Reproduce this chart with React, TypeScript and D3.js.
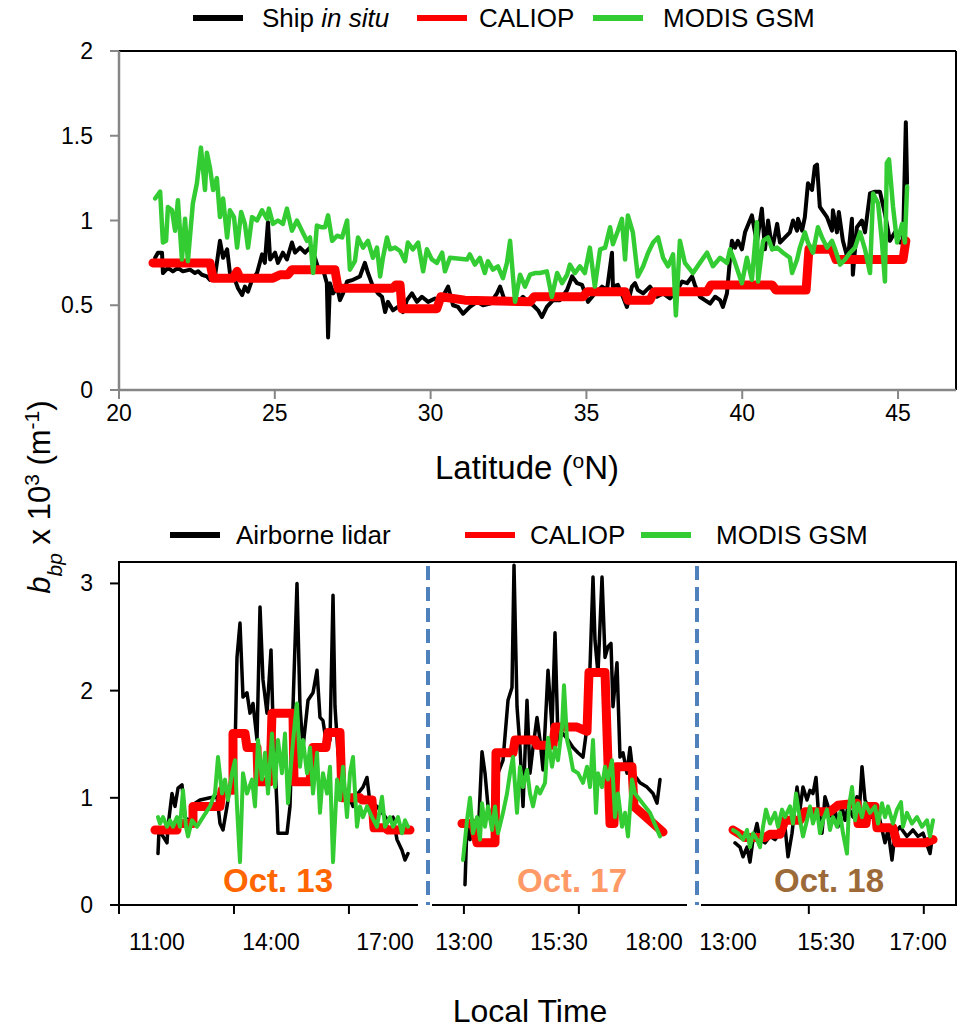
import React from 'react';
import * as d3 from 'd3';

type Pt = [number, number];

// ---- top panel: latitude (°N) vs bbp x 10^3 (m^-1)
const shipInSitu: Pt[] = [[21.16,0.78],[21.25,0.81],[21.38,0.81],[21.41,0.69],[21.57,0.72],[21.73,0.70],[21.89,0.72],[22.05,0.70],[22.28,0.71],[22.44,0.69],[22.54,0.70],[22.66,0.68],[22.82,0.67],[22.92,0.65],[23.08,0.67],[23.24,0.88],[23.34,0.78],[23.47,0.83],[23.56,0.69],[23.72,0.65],[23.82,0.60],[23.95,0.56],[24.04,0.61],[24.14,0.58],[24.27,0.65],[24.43,0.69],[24.59,0.80],[24.68,0.75],[24.78,0.99],[24.85,0.77],[25.01,0.81],[25.10,0.75],[25.26,0.81],[25.39,0.77],[25.55,0.87],[25.65,0.81],[25.81,0.84],[25.97,0.81],[26.13,0.84],[26.29,0.78],[26.39,0.72],[26.55,0.71],[26.67,0.63],[26.71,0.31],[26.77,0.63],[26.87,0.57],[27.00,0.61],[27.09,0.53],[27.19,0.57],[27.32,0.64],[27.51,0.65],[27.73,0.67],[27.89,0.75],[27.99,0.69],[28.15,0.61],[28.31,0.57],[28.44,0.55],[28.54,0.46],[28.63,0.52],[28.79,0.47],[28.95,0.49],[29.11,0.46],[29.24,0.53],[29.40,0.57],[29.56,0.52],[29.72,0.55],[29.92,0.52],[30.14,0.54],[30.30,0.52],[30.56,0.61],[30.72,0.50],[30.88,0.49],[31.04,0.45],[31.26,0.49],[31.49,0.52],[31.68,0.50],[31.91,0.51],[32.13,0.57],[32.23,0.61],[32.39,0.52],[32.55,0.52],[32.77,0.51],[32.96,0.55],[33.13,0.52],[33.29,0.50],[33.45,0.47],[33.57,0.43],[33.73,0.49],[33.93,0.53],[34.15,0.53],[34.38,0.59],[34.54,0.67],[34.70,0.63],[34.86,0.62],[35.05,0.52],[35.27,0.57],[35.50,0.61],[35.66,0.59],[35.82,0.81],[35.85,0.61],[36.01,0.62],[36.17,0.55],[36.30,0.49],[36.46,0.61],[36.56,0.63],[36.65,0.59],[36.82,0.57],[37.04,0.61],[37.26,0.55],[37.46,0.57],[37.68,0.54],[37.91,0.59],[38.07,0.64],[38.23,0.63],[38.39,0.67],[38.48,0.62],[38.64,0.55],[38.80,0.53],[38.97,0.51],[39.13,0.55],[39.29,0.53],[39.38,0.49],[39.51,0.57],[39.61,0.78],[39.67,0.88],[39.77,0.84],[39.86,0.88],[39.99,0.83],[40.09,0.93],[40.31,1.03],[40.47,0.87],[40.63,1.07],[40.73,0.83],[40.83,1.00],[40.96,0.83],[41.12,0.98],[41.21,0.87],[41.53,0.93],[41.63,1.00],[41.76,0.94],[41.79,1.01],[41.92,0.94],[42.01,1.02],[42.11,1.22],[42.24,1.18],[42.33,1.32],[42.40,1.33],[42.49,1.08],[42.72,1.02],[42.88,0.94],[42.91,1.06],[43.04,0.93],[43.10,1.05],[43.23,0.88],[43.39,0.77],[43.52,1.01],[43.55,0.68],[43.68,0.96],[43.84,1.00],[43.94,0.93],[44.10,1.16],[44.26,1.17],[44.42,1.17],[44.58,1.04],[44.74,0.88],[44.90,0.93],[45.06,0.87],[45.16,0.87],[45.25,1.58],[45.29,1.22]];

const caliopTop: Pt[] = [[21.09,0.75],[22.92,0.75],[23.02,0.66],[23.66,0.66],[23.79,0.70],[23.88,0.66],[24.94,0.66],[25.17,0.68],[25.42,0.68],[25.55,0.71],[26.93,0.71],[27.03,0.60],[28.79,0.60],[28.89,0.62],[29.02,0.62],[29.08,0.48],[30.20,0.48],[30.33,0.55],[31.10,0.53],[33.19,0.52],[33.32,0.55],[34.89,0.55],[35.02,0.58],[36.24,0.58],[36.33,0.53],[37.04,0.53],[37.17,0.58],[38.87,0.58],[39.00,0.62],[40.96,0.62],[41.08,0.59],[42.05,0.59],[42.14,0.83],[42.88,0.83],[43.01,0.77],[45.16,0.77],[45.25,0.88]];

const modisTop: Pt[] = [[21.16,1.13],[21.32,1.17],[21.41,0.87],[21.51,0.88],[21.57,1.08],[21.70,1.06],[21.80,0.94],[21.89,1.12],[22.02,0.77],[22.12,1.01],[22.21,0.76],[22.37,1.10],[22.50,1.22],[22.63,1.43],[22.76,1.18],[22.82,1.40],[22.92,1.31],[23.02,1.18],[23.14,1.25],[23.24,1.02],[23.34,1.13],[23.47,0.90],[23.56,1.06],[23.69,1.02],[23.79,0.84],[23.92,1.05],[24.04,0.98],[24.14,0.84],[24.27,1.02],[24.43,1.00],[24.59,1.06],[24.75,1.01],[24.81,1.07],[24.94,0.98],[25.10,1.00],[25.26,0.98],[25.39,1.07],[25.55,0.94],[25.71,1.00],[25.87,0.94],[26.03,0.88],[26.13,0.90],[26.23,0.69],[26.35,0.97],[26.51,0.96],[26.61,0.96],[26.71,1.03],[26.84,0.88],[27.00,0.91],[27.16,0.90],[27.32,1.00],[27.41,0.71],[27.57,0.76],[27.67,0.90],[27.83,0.84],[27.99,0.88],[28.15,0.78],[28.28,0.84],[28.38,0.67],[28.47,0.78],[28.60,0.90],[28.70,0.83],[28.86,0.84],[29.02,0.82],[29.18,0.76],[29.27,0.87],[29.43,0.83],[29.60,0.87],[29.76,0.70],[29.88,0.83],[30.04,0.77],[30.20,0.75],[30.37,0.81],[30.46,0.70],[30.62,0.78],[31.17,0.77],[31.26,0.80],[31.42,0.74],[31.58,0.78],[31.74,0.69],[31.84,0.76],[32.00,0.71],[32.16,0.73],[32.32,0.66],[32.45,0.75],[32.55,0.88],[32.71,0.52],[32.87,0.68],[33.03,0.61],[33.19,0.68],[33.35,0.69],[33.51,0.69],[33.73,0.70],[33.89,0.55],[34.06,0.69],[34.22,0.63],[34.38,0.68],[34.47,0.74],[34.63,0.69],[34.79,0.73],[34.95,0.69],[35.11,0.84],[35.27,0.61],[35.44,0.83],[35.60,0.84],[35.76,0.96],[35.85,0.86],[36.01,0.94],[36.14,1.01],[36.24,0.77],[36.33,1.03],[36.49,0.93],[36.65,0.67],[36.82,0.73],[36.98,0.81],[37.14,0.87],[37.30,0.90],[37.46,0.78],[37.62,0.73],[37.78,0.80],[37.87,0.44],[38.00,0.88],[38.16,0.75],[38.42,0.69],[38.64,0.75],[38.87,0.81],[39.06,0.73],[39.29,0.78],[39.51,0.75],[39.61,0.83],[39.77,0.75],[39.99,0.63],[40.15,0.78],[40.31,0.65],[40.47,0.99],[40.51,0.64],[40.67,0.88],[40.83,0.90],[40.96,0.83],[41.12,0.84],[41.31,0.81],[41.53,0.78],[41.60,0.69],[41.76,0.77],[41.85,0.84],[42.01,0.93],[42.11,0.87],[42.27,0.81],[42.43,0.96],[42.56,0.90],[42.72,0.84],[42.88,0.88],[42.98,0.83],[43.14,0.74],[43.30,0.77],[43.46,0.81],[43.62,0.84],[43.78,0.93],[43.94,0.83],[44.10,0.69],[44.20,1.16],[44.36,1.10],[44.48,0.88],[44.58,0.64],[44.64,1.34],[44.71,1.36],[44.84,1.08],[44.97,0.87],[45.13,0.98],[45.22,0.87],[45.29,1.20]];

const latTicks = [20, 25, 30, 35, 40, 45];
const topValueTicks = [0, 0.5, 1, 1.5, 2];

// ---- bottom panel: local time (decimal hours) vs bbp x 10^3 (m^-1)
const oct13Lidar: Pt[] = [[11.026,0.48],[11.053,0.70],[11.158,0.64],[11.263,0.58],[11.289,0.73],[11.395,1.04],[11.474,0.92],[11.553,1.09],[11.658,1.12],[11.737,0.82],[11.816,0.79],[11.921,0.82],[12.000,0.95],[12.132,0.98],[12.395,1.00],[12.579,1.01],[12.658,0.76],[12.737,0.70],[12.842,0.92],[12.974,1.23],[13.053,1.44],[13.105,2.31],[13.184,2.63],[13.263,1.94],[13.368,1.98],[13.447,1.79],[13.526,1.88],[13.632,1.54],[13.711,2.78],[13.789,2.10],[13.895,1.79],[14.000,2.38],[14.053,1.70],[14.158,0.92],[14.184,0.67],[14.421,0.67],[14.500,0.92],[14.579,1.85],[14.684,3.00],[14.763,1.85],[14.842,1.47],[14.974,1.91],[15.105,1.98],[15.211,2.19],[15.289,1.75],[15.368,1.72],[15.474,1.47],[15.553,1.54],[15.632,2.89],[15.684,1.85],[15.763,1.42],[15.895,1.10],[16.026,1.04],[16.158,0.92],[16.289,1.04],[16.421,1.10],[16.526,1.19],[16.605,0.95],[16.789,0.92],[16.947,0.85],[17.079,0.79],[17.211,0.82],[17.316,0.61],[17.447,0.51],[17.526,0.42],[17.605,0.48]];

const oct13Caliop: Pt[] = [[10.947,0.70],[11.526,0.70],[11.526,0.76],[11.947,0.76],[11.947,0.92],[12.658,0.92],[12.711,1.07],[13.000,1.07],[13.000,1.60],[13.316,1.60],[13.368,1.47],[13.632,1.47],[13.658,1.15],[13.974,1.15],[14.026,1.79],[14.579,1.79],[14.605,1.15],[15.026,1.15],[15.105,1.47],[15.447,1.47],[15.500,1.61],[15.816,1.61],[15.868,1.00],[16.342,1.00],[16.395,0.98],[16.658,0.98],[16.711,0.72],[17.000,0.72],[17.079,0.70],[17.658,0.70]];

const oct13Modis: Pt[] = [[11.026,0.82],[11.079,0.76],[11.158,0.82],[11.263,0.73],[11.342,0.79],[11.421,0.73],[11.526,0.82],[11.605,0.73],[11.684,1.07],[11.763,0.73],[11.816,0.64],[11.921,0.79],[12.053,0.73],[12.211,0.82],[12.395,0.92],[12.526,1.04],[12.605,1.38],[12.711,1.04],[12.789,1.17],[12.868,0.98],[12.974,1.23],[13.053,1.35],[13.105,0.92],[13.184,0.40],[13.263,1.23],[13.368,1.04],[13.500,1.17],[13.579,0.92],[13.658,1.54],[13.763,1.17],[13.842,1.42],[13.921,1.04],[14.026,1.60],[14.105,1.10],[14.184,1.54],[14.289,1.23],[14.368,1.60],[14.447,0.95],[14.553,1.42],[14.632,1.72],[14.684,1.88],[14.763,1.29],[14.842,1.54],[14.947,1.23],[15.026,1.47],[15.105,1.04],[15.211,1.42],[15.289,0.86],[15.368,1.23],[15.474,1.04],[15.553,1.29],[15.632,0.40],[15.737,1.17],[15.816,0.98],[15.895,1.29],[16.000,0.82],[16.079,1.23],[16.158,1.38],[16.263,0.73],[16.342,0.92],[16.421,0.82],[16.526,0.92],[16.658,0.82],[16.789,0.73],[16.921,1.01],[17.000,0.73],[17.132,0.82],[17.211,0.73],[17.342,0.82],[17.447,0.67],[17.526,0.79],[17.605,0.73]];

const oct17Lidar: Pt[] = [[13.026,0.19],[13.079,0.76],[13.158,0.61],[13.237,0.79],[13.368,0.61],[13.474,1.43],[13.553,1.23],[13.632,0.92],[13.763,0.70],[13.895,1.23],[14.026,1.35],[14.158,1.91],[14.263,2.03],[14.316,3.17],[14.395,1.85],[14.474,1.47],[14.553,0.92],[14.658,1.91],[14.737,1.23],[14.816,1.47],[14.921,1.75],[15.000,1.54],[15.079,1.26],[15.211,2.19],[15.316,1.66],[15.395,2.54],[15.474,1.54],[15.605,1.60],[15.737,1.54],[15.868,1.47],[16.000,1.42],[16.132,1.38],[16.237,1.66],[16.316,2.22],[16.395,3.06],[16.447,2.47],[16.526,2.16],[16.632,3.06],[16.711,2.31],[16.789,2.41],[16.868,2.44],[16.921,1.85],[17.026,2.26],[17.105,1.38],[17.184,1.42],[17.289,1.23],[17.368,1.47],[17.447,1.23],[17.632,1.14],[17.816,1.10],[17.974,1.04],[18.079,0.95],[18.158,1.17]];

const oct17Caliop: Pt[] = [[12.947,0.76],[13.237,0.76],[13.342,0.58],[13.816,0.58],[13.842,1.42],[14.289,1.42],[14.342,1.54],[14.868,1.54],[14.921,1.49],[15.342,1.49],[15.395,1.66],[15.974,1.66],[16.237,1.62],[16.289,2.17],[16.711,2.17],[16.842,0.76],[16.947,0.76],[17.000,1.29],[17.421,1.29],[17.474,0.92],[18.237,0.68]];

const oct17Modis: Pt[] = [[12.974,0.42],[13.079,0.79],[13.158,1.00],[13.237,0.67],[13.342,0.82],[13.421,0.61],[13.474,0.95],[13.553,0.73],[13.632,0.92],[13.737,0.70],[13.816,0.92],[13.895,0.67],[14.026,0.86],[14.132,1.04],[14.211,1.23],[14.289,1.38],[14.395,0.86],[14.474,1.29],[14.553,1.10],[14.658,1.26],[14.737,1.04],[14.816,0.92],[14.921,1.10],[15.000,1.04],[15.132,1.14],[15.211,1.56],[15.316,1.29],[15.395,1.47],[15.474,1.35],[15.579,1.66],[15.632,2.05],[15.711,1.54],[15.789,1.42],[15.868,1.26],[16.000,1.23],[16.132,1.14],[16.237,1.29],[16.316,1.10],[16.395,1.54],[16.474,0.86],[16.526,1.23],[16.632,1.10],[16.711,1.29],[16.789,1.17],[16.895,1.35],[16.974,0.82],[17.053,1.04],[17.158,0.73],[17.237,0.86],[17.316,0.64],[17.421,1.17],[17.500,1.04],[17.632,0.98],[17.895,0.86],[18.158,0.64]];

const oct18Lidar: Pt[] = [[13.179,0.58],[13.306,0.54],[13.383,0.45],[13.485,0.54],[13.561,0.40],[13.638,0.61],[13.740,0.76],[13.816,0.61],[13.944,0.58],[14.071,0.64],[14.199,0.61],[14.327,0.67],[14.454,0.73],[14.531,0.45],[14.633,0.67],[14.709,0.92],[14.760,1.10],[14.837,0.89],[14.913,1.10],[15.015,0.98],[15.092,1.07],[15.168,1.04],[15.245,1.19],[15.296,0.92],[15.398,0.67],[15.474,1.01],[15.533,0.92],[15.598,0.82],[15.647,0.89],[15.696,0.73],[15.761,0.92],[15.810,0.79],[15.859,0.92],[15.940,0.82],[16.005,1.01],[16.038,0.82],[16.087,1.29],[16.136,0.98],[16.185,0.92],[16.250,0.82],[16.331,0.89],[16.380,0.79],[16.462,0.58],[16.511,0.70],[16.576,0.42],[16.625,0.67],[16.706,0.73],[16.820,0.64],[16.918,0.70],[17.000,0.64],[17.082,0.67],[17.196,0.48],[17.228,0.61]];

const oct18Caliop: Pt[] = [[13.128,0.70],[13.306,0.66],[13.434,0.63],[13.944,0.63],[14.071,0.66],[14.327,0.66],[14.454,0.79],[14.837,0.79],[14.964,0.87],[15.565,0.87],[15.696,0.93],[16.005,0.95],[16.022,0.76],[16.152,0.76],[16.185,0.92],[16.299,0.92],[16.331,0.72],[16.592,0.72],[16.657,0.58],[17.114,0.58],[17.245,0.61]];

const oct18Modis: Pt[] = [[13.128,0.70],[13.255,0.67],[13.383,0.61],[13.485,0.70],[13.561,0.54],[13.638,0.67],[13.740,0.61],[13.816,0.54],[13.893,0.73],[13.969,0.89],[14.071,0.76],[14.199,0.86],[14.276,0.73],[14.378,0.89],[14.454,0.82],[14.582,0.92],[14.658,0.76],[14.735,1.04],[14.837,0.79],[14.913,0.64],[15.015,0.79],[15.092,0.92],[15.168,0.76],[15.270,0.89],[15.347,0.67],[15.423,0.79],[15.516,0.89],[15.565,0.70],[15.614,0.82],[15.679,0.73],[15.728,0.86],[15.777,0.67],[15.842,0.48],[15.875,0.92],[15.924,1.10],[15.973,0.79],[16.022,0.95],[16.087,0.82],[16.136,0.95],[16.217,0.86],[16.299,0.92],[16.348,0.76],[16.413,0.95],[16.462,0.82],[16.511,0.92],[16.592,0.76],[16.657,0.89],[16.723,0.96],[16.755,0.73],[16.820,0.86],[16.902,0.76],[16.984,0.82],[17.065,0.73],[17.147,0.79],[17.196,0.64],[17.245,0.79]];

const bottomValueTicks = [0, 1, 2, 3];
const oct13Times = [11, 14, 17];
const oct17Times = [13, 15.5, 18];
const oct18Times = [13, 15.5, 17];
const dayLabels = ['Oct. 13', 'Oct. 17', 'Oct. 18'];

const FONT = "'Liberation Sans', Arial, sans-serif";
const BLACK = '#000000';
const RED = '#ff0000';
const GREEN = '#33cc33';
const GRAY = '#868686';

const fmtTime = (h: number) => {
  const hh = Math.floor(h);
  const mm = Math.round((h - hh) * 60);
  return `${hh}:${mm < 10 ? '0' + mm : mm}`;
};

const App = () => {
  const W = 962;
  const H = 1029;

  // top plot area
  const top = { left: 119, right: 956, top: 51, bottom: 390 };
  const xLat = d3.scaleLinear().domain([20, 46.86]).range([top.left, top.right]);
  const yTop = d3.scaleLinear().domain([0, 2]).range([top.bottom, top.top]);

  // bottom plot area, three day panels side by side
  const bot = { left: 119, right: 956, top: 562, bottom: 905 };
  const yBot = d3.scaleLinear().domain([0, 3.2]).range([bot.bottom, bot.top]);
  const xDay13 = d3.scaleLinear().domain([11, 17]).range([157, 385]);
  const xDay17 = d3.scaleLinear().domain([13, 18]).range([464, 654]);
  const xDay18 = d3.scaleLinear().domain([13, 15.5, 17]).range([728, 826, 918]);
  const frame = d3.scaleLinear().domain([0, 7.28]).range([bot.left, bot.right]);
  const dividers = [428, 697];

  const topLine = d3.line<Pt>().x((d) => xLat(d[0])).y((d) => yTop(d[1]));
  const panelLine = (xs: d3.ScaleLinear<number, number>) =>
    d3.line<Pt>().x((d) => xs(d[0])).y((d) => yBot(d[1]));

  const panels = [
    { xs: xDay13, lidar: oct13Lidar, caliop: oct13Caliop, modis: oct13Modis, times: oct13Times, label: dayLabels[0], color: '#ff6600', cx: 278 },
    { xs: xDay17, lidar: oct17Lidar, caliop: oct17Caliop, modis: oct17Modis, times: oct17Times, label: dayLabels[1], color: '#ff9966', cx: 572 },
    { xs: xDay18, lidar: oct18Lidar, caliop: oct18Caliop, modis: oct18Modis, times: oct18Times, label: dayLabels[2], color: '#9c6a38', cx: 829 },
  ];

  const legend = (y: number, items: { x: number; tx: number; color: string; label: React.ReactNode }[]) =>
    items.map((it, i) => (
      <g key={i}>
        <line x1={it.x} x2={it.x + 50} y1={y} y2={y} stroke={it.color} strokeWidth={6} />
        <text x={it.tx} y={y + 9} fontSize={26} fill="#000">{it.label}</text>
      </g>
    ));

  return (
    <svg width={W} height={H} style={{ position: 'absolute', left: 0, top: 0, background: '#fff' }} fontFamily={FONT}>
      <rect width={W} height={H} fill="#fff" />

      {/* ---------- top chart ---------- */}
      {legend(18, [
        { x: 193, tx: 262, color: BLACK, label: <>Ship <tspan fontStyle="italic">in situ</tspan></> },
        { x: 417, tx: 479, color: RED, label: 'CALIOP' },
        { x: 593, tx: 663, color: GREEN, label: 'MODIS GSM' },
      ])}

      <line x1={top.left} x2={top.right} y1={top.top} y2={top.top} stroke="#000" strokeWidth={2} />
      <line x1={top.right} x2={top.right} y1={top.top} y2={top.bottom} stroke="#000" strokeWidth={2} />

      <g fill="none" strokeLinejoin="round" strokeLinecap="round">
        <path d={topLine(shipInSitu) || ''} stroke={BLACK} strokeWidth={4} />
        <path d={topLine(caliopTop) || ''} stroke={RED} strokeWidth={9} />
        <path d={topLine(modisTop) || ''} stroke={GREEN} strokeWidth={4.5} />
      </g>

      <line x1={top.left} x2={top.left} y1={top.top} y2={top.bottom} stroke={GRAY} strokeWidth={2.5} />
      <line x1={top.left} x2={top.right} y1={top.bottom} y2={top.bottom} stroke={GRAY} strokeWidth={2.5} />
      {topValueTicks.map((v) => (
        <g key={v}>
          <line x1={top.left - 9} x2={top.left} y1={yTop(v)} y2={yTop(v)} stroke={GRAY} strokeWidth={2} />
          <text x={top.left - 26} y={yTop(v) + 8} textAnchor="end" fontSize={23}>{v}</text>
        </g>
      ))}
      {latTicks.map((v) => (
        <g key={v}>
          <line x1={xLat(v)} x2={xLat(v)} y1={top.bottom} y2={top.bottom + 9} stroke={GRAY} strokeWidth={2} />
          <text x={xLat(v)} y={top.bottom + 31} textAnchor="middle" fontSize={23}>{v}</text>
        </g>
      ))}
      <text x={527} y={479} textAnchor="middle" fontSize={33}>
        Latitude (<tspan baselineShift="super" fontSize={21}>o</tspan>N)
      </text>

      {/* y axis title shared by both charts */}
      <text transform="translate(50,497) rotate(-90)" textAnchor="middle" fontSize={31}>
        <tspan fontStyle="italic">b</tspan>
        <tspan fontStyle="italic" baselineShift="sub" fontSize={21}>bp</tspan>
        <tspan> x 10</tspan>
        <tspan baselineShift="super" fontSize={21}>3</tspan>
        <tspan> (m</tspan>
        <tspan baselineShift="super" fontSize={21}>-1</tspan>
        <tspan>)</tspan>
      </text>

      {/* ---------- bottom chart ---------- */}
      {legend(535, [
        { x: 170, tx: 236, color: BLACK, label: 'Airborne lidar' },
        { x: 465, tx: 530, color: RED, label: 'CALIOP' },
        { x: 641, tx: 716, color: GREEN, label: 'MODIS GSM' },
      ])}

      <rect x={bot.left} y={bot.top} width={bot.right - bot.left} height={bot.bottom - bot.top} fill="none" stroke="#000" strokeWidth={2} />

      {panels.map((p, i) => {
        const ln = panelLine(p.xs);
        return (
          <g key={i} fill="none" strokeLinejoin="round" strokeLinecap="round">
            <path d={ln(p.lidar) || ''} stroke={BLACK} strokeWidth={3.5} />
            <path d={ln(p.caliop) || ''} stroke={RED} strokeWidth={9} />
            <path d={ln(p.modis) || ''} stroke={GREEN} strokeWidth={4} />
          </g>
        );
      })}

      {d3.range(0, 8).map((k) => (
        <line key={k} x1={frame(k)} x2={frame(k)} y1={bot.bottom} y2={bot.bottom + 9} stroke="#000" strokeWidth={2} />
      ))}
      {dividers.map((dx) => (
        <g key={dx}>
          <rect x={dx - 10} y={bot.bottom - 2} width={14} height={13} fill="#fff" />
          <line x1={dx} x2={dx} y1={bot.top + 4} y2={bot.bottom} stroke="#4f81bd" strokeWidth={4} strokeDasharray="14 7" />
        </g>
      ))}

      {panels.map((p, i) => (
        <g key={'lab' + i}>
          <text x={p.cx} y={892} textAnchor="middle" fontSize={33} fontWeight="bold" fill={p.color}>{p.label}</text>
          {p.times.map((t) => (
            <text key={t} x={p.xs(t)} y={950} textAnchor="middle" fontSize={23}>{fmtTime(t)}</text>
          ))}
        </g>
      ))}

      {bottomValueTicks.map((v) => (
        <g key={v}>
          <line x1={bot.left - 9} x2={bot.left} y1={yBot(v)} y2={yBot(v)} stroke="#000" strokeWidth={2} />
          <text x={bot.left - 26} y={yBot(v) + 8} textAnchor="end" fontSize={23}>{v}</text>
        </g>
      ))}

      <text x={530} y={1022} textAnchor="middle" fontSize={32}>Local Time</text>
    </svg>
  );
};

export default App;
